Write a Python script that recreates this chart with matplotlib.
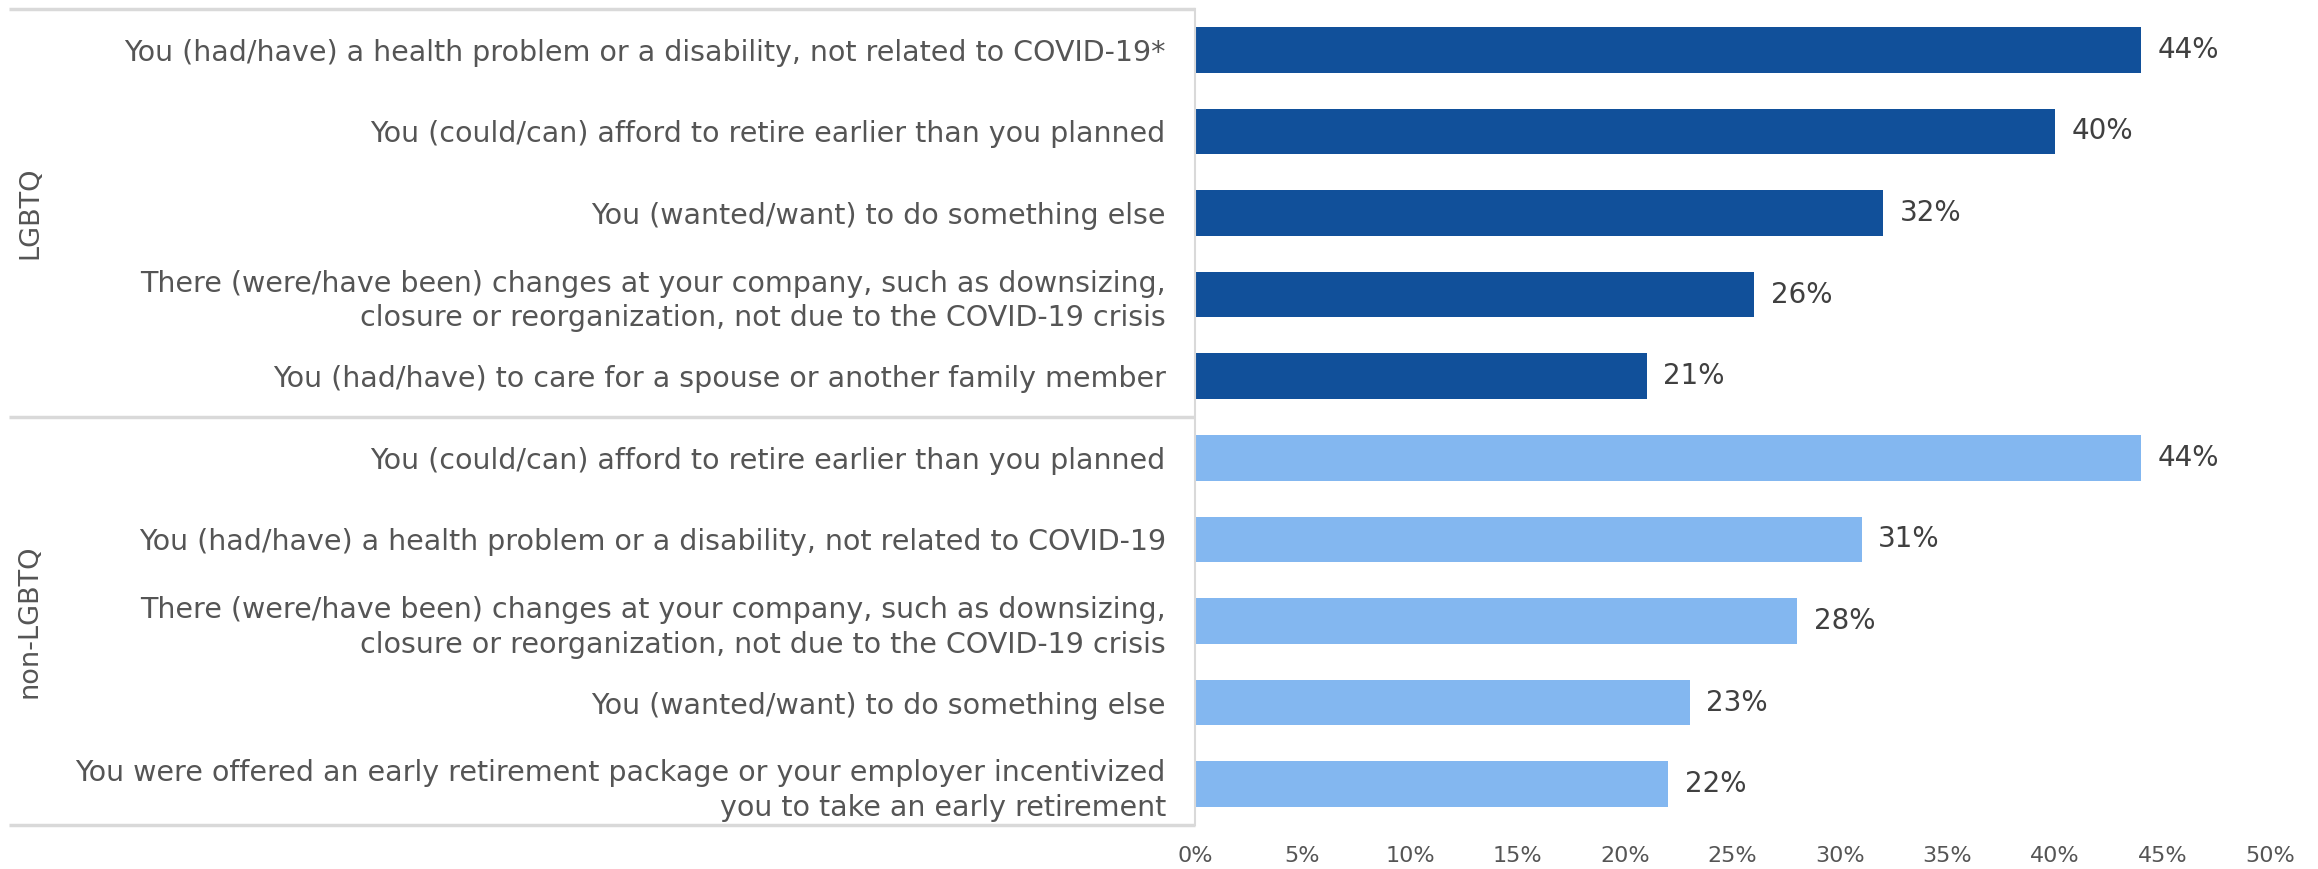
import matplotlib
matplotlib.use("Agg")
import matplotlib.pyplot as plt
from matplotlib.transforms import blended_transform_factory

plt.rcParams['font.family'] = ['DejaVu Sans']

groups = ["LGBTQ", "non-LGBTQ"]
lgbtq_labels = [
    "You (had/have) a health problem or a disability, not related to COVID-19*",
    "You (could/can) afford to retire earlier than you planned",
    "You (wanted/want) to do something else",
    "There (were/have been) changes at your company, such as downsizing,\nclosure or reorganization, not due to the COVID-19 crisis",
    "You (had/have) to care for a spouse or another family member",
]
lgbtq_values = [44, 40, 32, 26, 21]
non_labels = [
    "You (could/can) afford to retire earlier than you planned",
    "You (had/have) a health problem or a disability, not related to COVID-19",
    "There (were/have been) changes at your company, such as downsizing,\nclosure or reorganization, not due to the COVID-19 crisis",
    "You (wanted/want) to do something else",
    "You were offered an early retirement package or your employer incentivized\nyou to take an early retirement",
]
non_values = [44, 31, 28, 23, 22]
xticks = [0, 5, 10, 15, 20, 25, 30, 35, 40, 45, 50]

dark = "#11509A"
light = "#83B7F0"
label_col = "#555555"
val_col = "#404040"
line_col = "#D9D9D9"

W, H = 2318, 869
fig = plt.figure(figsize=(W / 100, H / 100), dpi=100)
ax_left = 1195 / W
ax_right = 2270 / W
ax_top = 1 - 9 / H
ax_bot = 1 - 825 / H
ax = fig.add_axes([ax_left, ax_bot, ax_right - ax_left, ax_top - ax_bot])

labels = lgbtq_labels + non_labels
values = lgbtq_values + non_values
colors = [dark] * len(lgbtq_values) + [light] * len(non_values)
pos = list(range(len(values)))

ax.barh(pos, values, height=0.56, color=colors)
ax.set_xlim(0, 50)
ax.set_ylim(len(values) - 0.5, -0.5)
ax.set_yticks(pos)
ax.set_yticklabels(labels, fontsize=20.5, color=label_col, linespacing=1.3)
ax.tick_params(axis='y', length=0, pad=21)
ax.set_xticks(xticks)
ax.set_xticklabels([f"{t}%" for t in xticks], fontsize=16, color=label_col)
ax.tick_params(axis='x', length=0, pad=15)

for s in ["top", "right", "bottom"]:
    ax.spines[s].set_visible(False)
ax.spines["left"].set_color(line_col)
ax.spines["left"].set_linewidth(1.5)

for p, v in zip(pos, values):
    ax.annotate(f"{v}%", (v, p), xytext=(12, 0), textcoords="offset points",
                va="center", ha="left", fontsize=20, color=val_col)

tr = blended_transform_factory(fig.transFigure, ax.transData)
x0 = 9 / W
for yy in [-0.5, 4.5, 9.5]:
    ax.plot([x0, ax_left], [yy, yy], transform=tr, color=line_col, lw=2.5,
            clip_on=False, solid_capstyle="butt")

group_centers = [2, 7]
for g, c in zip(groups, group_centers):
    ax.text(30 / W, c, g, transform=tr, rotation=90, ha="center", va="center",
            fontsize=19.5, color=label_col)

fig.savefig("out.png", dpi=100)
